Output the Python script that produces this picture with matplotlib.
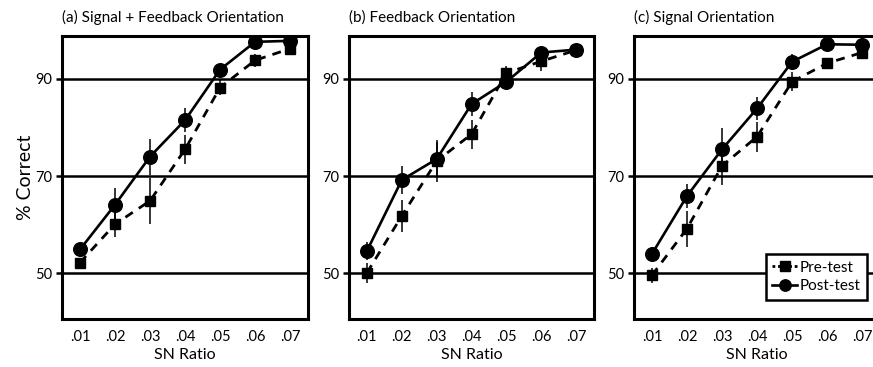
import matplotlib
matplotlib.use("Agg")
import matplotlib.pyplot as plt
from matplotlib.lines import Line2D

plt.rcParams['font.family'] = ['Lato', 'DejaVu Sans']

sn = [0.01, 0.02, 0.03, 0.04, 0.05, 0.06, 0.07]
xtick_labels = ['.01', '.02', '.03', '.04', '.05', '.06', '.07']
titles = ['(a) Signal + Feedback Orientation', '(b) Feedback Orientation', '(c) Signal Orientation']

pre_a = [52.2, 60.1, 64.9, 75.5, 88.2, 93.8, 96.2]
pre_a_err = [1.0, 2.7, 4.8, 3.0, 1.6, 1.3, 0.8]
post_a = [54.9, 64.1, 74.0, 81.5, 91.9, 97.6, 97.8]
post_a_err = [1.0, 3.4, 3.7, 2.5, 1.0, 0.8, 0.8]

pre_b = [50.1, 61.8, 73.1, 78.6, 91.2, 93.6, 95.9]
pre_b_err = [2.0, 3.3, 4.3, 3.0, 1.5, 2.0, 0.8]
post_b = [54.6, 69.2, 73.5, 84.8, 89.4, 95.4, 96.0]
post_b_err = [1.8, 2.9, 3.5, 2.4, 1.0, 0.8, 0.8]

pre_c = [49.6, 59.2, 72.1, 78.1, 89.4, 93.2, 95.4]
pre_c_err = [1.5, 3.7, 3.9, 3.1, 2.0, 1.0, 0.8]
post_c = [54.0, 65.9, 75.5, 83.9, 93.5, 97.1, 97.0]
post_c_err = [1.5, 2.4, 4.3, 2.3, 1.7, 0.8, 0.8]

pre = [pre_a, pre_b, pre_c]
pre_err = [pre_a_err, pre_b_err, pre_c_err]
post = [post_a, post_b, post_c]
post_err = [post_a_err, post_b_err, post_c_err]
yticks = [50, 70, 90]

fig = plt.figure(figsize=(8.73, 3.67), dpi=100)
W, H = 873, 367
lefts = [62, 349, 634]
widths = [246, 245, 246]
top, bottom = 36, 319

for i in range(3):
    ax = fig.add_axes([lefts[i] / W, (H - bottom) / H, widths[i] / W, (bottom - top) / H])
    ax.set_xlim(0.00486, 0.0751)
    ax.set_ylim(40.6, 98.8)
    for y in yticks:
        ax.axhline(y, color='black', lw=1.8, zorder=1)
    ax.errorbar(sn, pre[i], yerr=pre_err[i], fmt='none', ecolor='black', elinewidth=1.1, zorder=2)
    ax.errorbar(sn, post[i], yerr=post_err[i], fmt='none', ecolor='black', elinewidth=1.1, zorder=2)
    ax.plot(sn, pre[i], color='black', lw=2.0, ls=(0, (3.2, 2.6)), marker='s', ms=7.8, zorder=3)
    ax.plot(sn, post[i], color='black', lw=1.9, ls='-', marker='o', ms=9.8, zorder=4)
    ax.set_xticks(sn)
    ax.set_xticklabels(xtick_labels)
    ax.set_yticks(yticks)
    ax.tick_params(axis='x', length=0, labelsize=10.5, pad=8)
    ax.tick_params(axis='y', length=4, width=1.8, labelsize=10.5, pad=3)
    for s in ax.spines.values():
        s.set_linewidth(2.2)
    ax.set_xlabel('SN Ratio', fontsize=11.5, labelpad=3)
    ax.set_title(titles[i], loc='left', fontsize=11, pad=10)
    if i == 0:
        ax.set_ylabel('% Correct', fontsize=14, labelpad=1)
    if i == 2:
        handles = [
            Line2D([], [], color='black', lw=2.0, ls=(0, (1, 1)), marker='s', ms=6.8),
            Line2D([], [], color='black', lw=1.9, ls='-', marker='o', ms=8.2),
        ]
        leg = ax.legend(handles, ['Pre-test', 'Post-test'], loc='lower right',
                        bbox_to_anchor=(0.947, 0.067), fontsize=11, frameon=True,
                        fancybox=False, handlelength=1.6, handletextpad=0.15,
                        borderpad=0.45, labelspacing=0.3, borderaxespad=0.0)
        leg.get_frame().set_edgecolor('black')
        leg.get_frame().set_linewidth(1.8)
        leg.get_frame().set_alpha(1)

fig.savefig('out.png', dpi=100)
